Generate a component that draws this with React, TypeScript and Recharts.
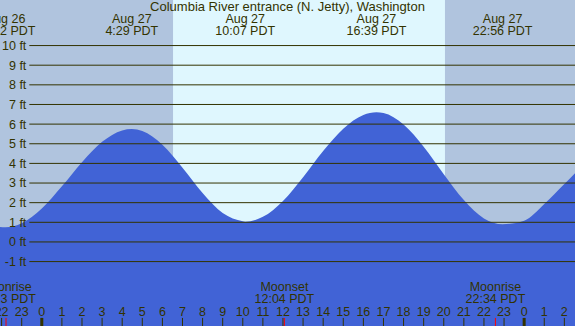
import { AreaChart, Area, XAxis, YAxis, ReferenceArea, ReferenceLine } from 'recharts'

// hours relative to midnight Aug 27 (PDT), tide height in feet
const HOURS = [-2.08, -1.8, -1, 0, 1, 2, 3, 4, 4.48, 5, 6, 7, 8, 9, 10, 10.12, 11, 12, 13, 14, 15, 16, 16.65, 17, 18, 19, 20, 21, 22, 22.93, 24, 25, 26, 26.53]
const HEIGHTS = [0.76, 0.75, 0.95, 1.7, 2.83, 4.06, 5.1, 5.68, 5.75, 5.65, 4.95, 3.78, 2.49, 1.47, 1.05, 1.03, 1.28, 2.09, 3.3, 4.63, 5.77, 6.47, 6.6, 6.56, 5.98, 4.85, 3.45, 2.13, 1.2, 0.9, 1.08, 1.93, 2.95, 3.5]

const FT_TICKS = [-1, 0, 1, 2, 3, 4, 5, 6, 7, 8, 9, 10]
const HOUR_TICKS = [-2, -1, 0, 1, 2, 3, 4, 5, 6, 7, 8, 9, 10, 11, 12, 13, 14, 15, 16, 17, 18, 19, 20, 21, 22, 23, 24, 25, 26]
const MIDNIGHTS = [0, 24]

const TIDE_TIMES = [-1.8, 4.48, 10.12, 16.65, 22.93]
const TIDE_DATES = ['Aug 26', 'Aug 27', 'Aug 27', 'Aug 27', 'Aug 27']
const TIDE_LABELS = ['22:12 PDT', '4:29 PDT', '10:07 PDT', '16:39 PDT', '22:56 PDT']

const MOON_TIMES = [-1.78, 12.07, 22.57]
const MOON_EVENTS = ['Moonrise', 'Moonset', 'Moonrise']
const MOON_LABELS = ['22:13 PDT', '12:04 PDT', '22:34 PDT']

const SUNRISE = 6.53
const SUNSET = 20.06

const X_MIN = -2.08
const X_MAX = 26.53
const Y_MIN = -4.28
const Y_MAX = 12.32
const GRID_START = -0.62
const TICK_FT = 0.41

const FONT = '"Liberation Sans", Arial, sans-serif'
const INK = '#333300'
const WATER = '#4163d6'
const NIGHT_BG = '#b0c4de'
const DAY_BG = '#dff7fe'

const data = HOURS.map((t, i) => ({ t, ft: HEIGHTS[i] }))

const hourLabel = (h: number) => String(((h % 24) + 24) % 24)

function textLines(lines: string[], ys: number[]) {
    return (props: any) => {
        const x = props.viewBox?.x ?? 0
        return (
            <g>
                {lines.map((s, i) => (
                    <text key={i} x={x} y={ys[i]} textAnchor="middle" fill={INK} fontSize={12.5} fontFamily={FONT}>{s}</text>
                ))}
            </g>
        )
    }
}

export default function App() {
    return (
        <div style={{ position: 'absolute', left: 0, top: 0, width: 575, height: 326, background: DAY_BG }}>
            <AreaChart width={575} height={326} data={data} margin={{ top: 0, right: 0, bottom: 0, left: 0 }}>
                <XAxis hide type="number" dataKey="t" domain={[X_MIN, X_MAX]} allowDataOverflow />
                <YAxis hide type="number" domain={[Y_MIN, Y_MAX]} allowDataOverflow />
                <ReferenceArea x1={X_MIN} x2={SUNRISE} fill={NIGHT_BG} fillOpacity={1} stroke="none" />
                <ReferenceArea x1={SUNSET} x2={X_MAX} fill={NIGHT_BG} fillOpacity={1} stroke="none" />
                <Area
                    type="monotone"
                    dataKey="ft"
                    stroke="none"
                    fill={WATER}
                    fillOpacity={1}
                    baseValue={Y_MIN}
                    dot={false}
                    activeDot={false}
                    isAnimationActive={false}
                />
                {FT_TICKS.map((v) => (
                    <ReferenceLine
                        key={'g' + v}
                        segment={[{ x: GRID_START, y: v }, { x: X_MAX, y: v }]}
                        stroke={INK}
                        strokeWidth={1}
                        label={{ value: `${v} ft`, position: 'left', offset: 3, fill: INK, fontSize: 12.5, fontFamily: FONT }}
                    />
                ))}
                {HOUR_TICKS.map((h) => (
                    <ReferenceLine
                        key={'h' + h}
                        segment={[{ x: h, y: Y_MIN }, { x: h, y: Y_MIN + TICK_FT }]}
                        stroke={INK}
                        strokeWidth={1}
                        label={{ content: textLines([hourLabel(h)], [316]) }}
                    />
                ))}
                {MIDNIGHTS.map((m) => (
                    <ReferenceLine
                        key={'m' + m}
                        segment={[{ x: m, y: Y_MIN }, { x: m, y: Y_MIN + TICK_FT }]}
                        stroke={INK}
                        strokeWidth={3}
                    />
                ))}
                {MOON_TIMES.map((t, i) => (
                    <ReferenceLine
                        key={'moon' + i}
                        segment={[{ x: t, y: Y_MIN }, { x: t, y: Y_MIN + TICK_FT }]}
                        stroke="#ff0000"
                        strokeWidth={1}
                        label={{ content: textLines([MOON_EVENTS[i], MOON_LABELS[i]], [291, 303]) }}
                    />
                ))}
                {TIDE_TIMES.map((t, i) => (
                    <ReferenceLine
                        key={'tide' + i}
                        x={t}
                        stroke="none"
                        label={{ content: textLines([TIDE_DATES[i], TIDE_LABELS[i]], [23, 35]) }}
                    />
                ))}
            </AreaChart>
            <div
                style={{
                    position: 'absolute', left: 0, top: 0, width: 575, textAlign: 'center',
                    fontFamily: FONT, fontSize: 13, lineHeight: '14px', color: INK,
                }}
            >
                Columbia River entrance (N. Jetty), Washington
            </div>
        </div>
    )
}
